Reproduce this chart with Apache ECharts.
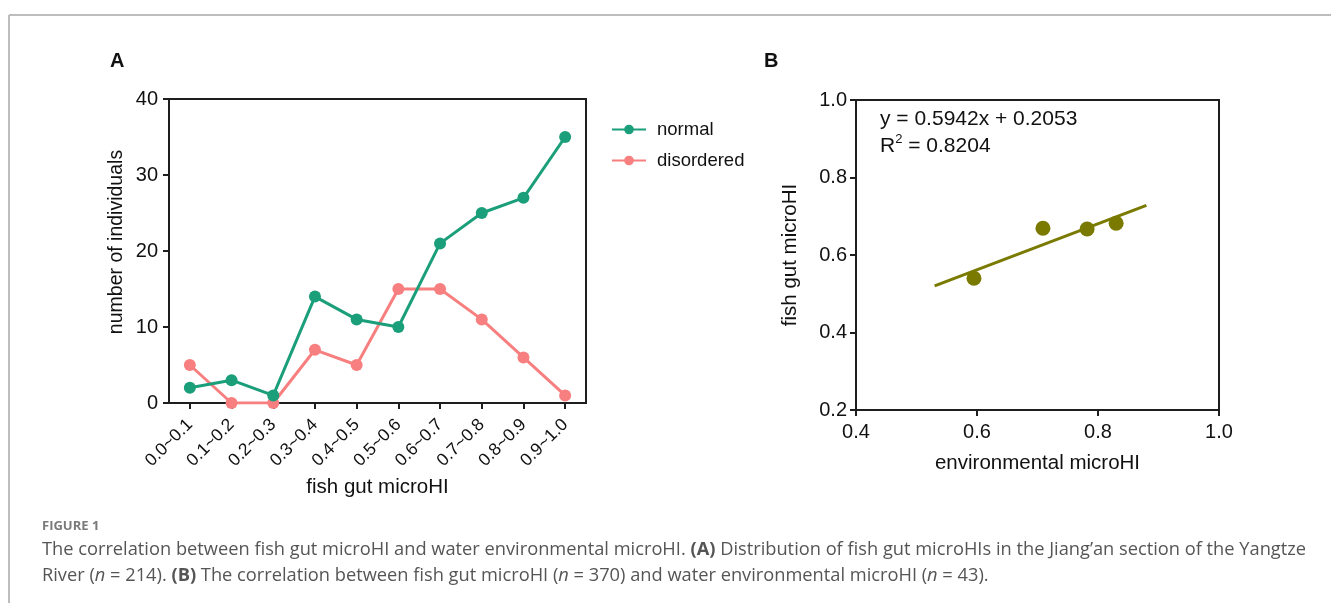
<!DOCTYPE html>
<html>
<head>
<meta charset="utf-8">
<script src="https://cdn.jsdelivr.net/npm/echarts@6/dist/echarts.min.js"></script>
<style>
html,body{margin:0;padding:0;background:#fff;}
#c{width:1331px;height:603px;}
</style>
</head>
<body>
<div id="c"></div>
<script>
// ---- Data ----
const categories = ['0.0~0.1','0.1~0.2','0.2~0.3','0.3~0.4','0.4~0.5','0.5~0.6','0.6~0.7','0.7~0.8','0.8~0.9','0.9~1.0'];
const normalCounts = [2, 3, 1, 14, 11, 10, 21, 25, 27, 35];
const disorderedCounts = [5, 0, 0, 7, 5, 15, 15, 11, 6, 1];
const envMicroHI = [0.595, 0.709, 0.782, 0.830];
const gutMicroHI = [0.540, 0.669, 0.667, 0.682];
const fitSlope = 0.5942;
const fitIntercept = 0.2053;
const fitXRange = [0.53, 0.88];
const yTicksA = [0, 10, 20, 30, 40];
const ticksB = [0.2, 0.4, 0.6, 0.8, 1.0];

const FONT = 'Liberation Sans';
const CAP = 'Open Sans';
const green = '#1b9e7a';
const pink = '#f77f7f';
const olive = '#7a7a00';
const axisCol = '#1e1e1e';
const capCol = '#555555';

const chart = echarts.init(document.getElementById('c'));
const fitLine = fitXRange.map(x => [x, fitSlope * x + fitIntercept]);

const axisLine = {show: true, lineStyle: {color: axisCol, width: 2}};
const axisTick = {show: true, length: 6, lineStyle: {color: axisCol, width: 2}};
const lbl = {color: '#111', fontFamily: FONT, fontSize: 20};
const nameStyle = {fontFamily: FONT, fontSize: 20.5, color: '#111'};

chart.setOption({
  animation: false,
  textStyle: {fontFamily: FONT},
  grid: [
    {left: 169, top: 99, width: 417, height: 304, show: true, borderColor: axisCol, borderWidth: 2},
    {left: 856, top: 100, width: 363, height: 310, show: true, borderColor: axisCol, borderWidth: 2}
  ],
  legend: {
    orient: 'vertical', left: 606, top: 115, itemWidth: 34, itemHeight: 12, itemGap: 12,
    textStyle: {fontFamily: FONT, fontSize: 18.5, color: '#111', padding: [0,0,0,6]},
    data: ['normal', 'disordered']
  },
  xAxis: [
    {type: 'category', gridIndex: 0, data: categories, boundaryGap: true,
     axisLine: axisLine, axisTick: Object.assign({alignWithLabel: true}, axisTick),
     axisLabel: Object.assign({}, lbl, {rotate: 45, margin: 19, interval: 0, fontSize: 17.5}),
     splitLine: {show: false},
     name: 'fish gut microHI', nameLocation: 'middle', nameGap: 74, nameMoveOverlap: false,
     nameTextStyle: nameStyle},
    {type: 'value', gridIndex: 1, min: 0.4, max: 1.0, interval: 0.2,
     axisLine: axisLine, axisTick: axisTick,
     axisLabel: Object.assign({margin: 12, formatter: v => v.toFixed(1)}, lbl),
     splitLine: {show: false},
     name: 'environmental microHI', nameLocation: 'middle', nameGap: 43, nameMoveOverlap: false,
     nameTextStyle: nameStyle}
  ],
  yAxis: [
    {type: 'value', gridIndex: 0, min: yTicksA[0], max: yTicksA[yTicksA.length-1], interval: 10,
     axisLine: axisLine, axisTick: axisTick,
     axisLabel: Object.assign({margin: 11}, lbl),
     splitLine: {show: false}},
    {type: 'value', gridIndex: 1, min: ticksB[0], max: ticksB[ticksB.length-1], interval: 0.2,
     axisLine: axisLine, axisTick: axisTick,
     axisLabel: Object.assign({margin: 9, formatter: v => v.toFixed(1)}, lbl),
     splitLine: {show: false},
     name: 'fish gut microHI', nameLocation: 'middle', nameGap: 55, nameMoveOverlap: false,
     nameTextStyle: nameStyle}
  ],
  series: [
    {name: 'normal', type: 'line', xAxisIndex: 0, yAxisIndex: 0, data: normalCounts,
     symbol: 'circle', symbolSize: 12, lineStyle: {color: green, width: 3}, itemStyle: {color: green}, z: 3},
    {name: 'disordered', type: 'line', xAxisIndex: 0, yAxisIndex: 0, data: disorderedCounts,
     symbol: 'circle', symbolSize: 12, lineStyle: {color: pink, width: 3}, itemStyle: {color: pink}, z: 2},
    {name: 'fit', type: 'line', xAxisIndex: 1, yAxisIndex: 1, data: fitLine,
     symbol: 'none', lineStyle: {color: olive, width: 3}},
    {name: 'points', type: 'scatter', xAxisIndex: 1, yAxisIndex: 1,
     data: envMicroHI.map((x, i) => [x, gutMicroHI[i]]),
     symbol: 'circle', symbolSize: 15, itemStyle: {color: olive, opacity: 1}}
  ],
  graphic: [
    {type: 'line', shape: {x1: 9, y1: 15, x2: 1331, y2: 15}, style: {stroke: '#bdbdbd', lineWidth: 2}},
    {type: 'line', shape: {x1: 9, y1: 15, x2: 9, y2: 603}, style: {stroke: '#bdbdbd', lineWidth: 2}},
    {type: 'text', x: 117, y: 242, rotation: Math.PI / 2, style: {
      text: 'number of individuals', font: '19.5px "Liberation Sans"', fill: '#111',
      align: 'center', verticalAlign: 'middle'}},
    {type: 'text', left: 110, top: 51, style: {text: 'A', font: 'bold 20px "Liberation Sans"', fill: '#111'}},
    {type: 'text', left: 764, top: 51, style: {text: 'B', font: 'bold 20px "Liberation Sans"', fill: '#111'}},
    {type: 'text', left: 880, top: 106, style: {
      text: 'y = 0.5942x + 0.2053\n{r|R}{s|2}{r| = 0.8204}',
      font: '21px "Liberation Sans"', fill: '#111', lineHeight: 27,
      rich: {r: {fontFamily: FONT, fontSize: 21, color: '#111', lineHeight: 27},
             s: {fontFamily: FONT, fontSize: 13, color: '#111', verticalAlign: 'top', lineHeight: 27, padding: [0,0,9,0]}}}},
    {type: 'text', left: 42, top: 520, style: {text: 'FIGURE 1', font: 'bold 13px "Open Sans"', fill: '#7a7a7a'}},
    {type: 'text', left: 42, top: 541, style: {
      text: 'The correlation between fish gut microHI and water environmental microHI. {b|(A)} Distribution of fish gut microHIs in the Jiang\u2019an section of the Yangtze',
      font: '18.25px "Open Sans"', fill: capCol,
      rich: {b: {fontFamily: CAP, fontSize: 18.25, fontWeight: 'bold', color: capCol}}}},
    {type: 'text', left: 42, top: 567, style: {
      text: 'River ({i|n} = 214). {b|(B)} The correlation between fish gut microHI ({i|n} = 370) and water environmental microHI ({i|n} = 43).',
      font: '18.25px "Open Sans"', fill: capCol,
      rich: {b: {fontFamily: CAP, fontSize: 18.25, fontWeight: 'bold', color: capCol},
             i: {fontFamily: CAP, fontSize: 18.25, fontStyle: 'italic', color: capCol}}}}
  ]
});
</script>
</body>
</html>
